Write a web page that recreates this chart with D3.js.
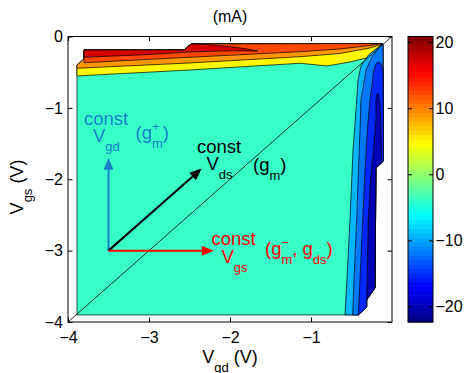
<!DOCTYPE html>
<html>
<head>
<meta charset="utf-8">
<script src="https://cdn.jsdelivr.net/npm/d3@7"></script>
<style>
  body { margin: 0; background: #fff; }
  text { font-family: "Liberation Sans", Arial, sans-serif; }
</style>
</head>
<body>
<svg id="chart" width="468" height="373"></svg>
<script>
// axis ticks
var xTicks = [-4, -3, -2, -1];
var yTicks = [0, -1, -2, -3, -4];
var cbTicks = [-20, -10, 0, 10, 20];
var cLimits = [-22.35, 20.85];

// filled contour regions, [Vgd, Vgs] in volts, painted in this order
var domainPoly = [[-3.889,-3.901],[-3.889,-0.399],[-3.802,-0.315],[-3.802,-0.189],[-2.568,-0.189],[-2.481,-0.105],[-0.123,-0.098],[-0.111,-0.105],[-0.105,-1.744],[-0.198,-1.842],[-0.210,-3.522],[-0.312,-3.690],[-0.312,-3.789],[-0.416,-3.901]];
var yellowPoly = [[-3.889,-0.553],[-2.494,-0.469],[-1.136,-0.375],[-0.802,-0.413],[-0.519,-0.357],[-0.309,-0.301],[-0.185,-0.203],[-0.123,-0.112],[-0.123,-0.098],[-2.481,-0.105],[-2.568,-0.189],[-3.802,-0.189],[-3.802,-0.315],[-3.889,-0.399]];
var orangePoly = [[-3.889,-0.445],[-2.494,-0.371],[-1.136,-0.283],[-0.642,-0.238],[-0.272,-0.161],[-0.123,-0.105],[-0.123,-0.098],[-2.481,-0.105],[-2.568,-0.189],[-3.802,-0.189],[-3.802,-0.315],[-3.889,-0.399]];
var orangeRedPoly = [[-3.802,-0.367],[-2.494,-0.291],[-1.136,-0.213],[-0.642,-0.175],[-0.272,-0.126],[-0.123,-0.100],[-0.123,-0.098],[-2.481,-0.105],[-2.568,-0.189],[-3.802,-0.189]];
var redPoly = [[-3.802,-0.189],[-2.568,-0.189],[-2.481,-0.105],[-2.300,-0.112],[-2.087,-0.133],[-1.840,-0.166],[-1.654,-0.203],[-2.000,-0.200],[-2.494,-0.217],[-2.988,-0.252],[-3.802,-0.291]];
var lightBluePoly = [[-0.580,-3.901],[-0.556,-3.410],[-0.519,-2.570],[-0.481,-1.590],[-0.444,-1.029],[-0.420,-0.609],[-0.383,-0.413],[-0.290,-0.259],[-0.123,-0.105],[-0.111,-0.105],[-0.105,-1.744],[-0.198,-1.842],[-0.210,-3.522],[-0.312,-3.690],[-0.312,-3.789],[-0.416,-3.901]];
var midBluePoly = [[-0.485,-3.901],[-0.469,-3.410],[-0.436,-2.570],[-0.395,-1.310],[-0.383,-0.889],[-0.321,-0.469],[-0.235,-0.259],[-0.123,-0.105],[-0.111,-0.105],[-0.105,-1.744],[-0.198,-1.842],[-0.210,-3.522],[-0.312,-3.690],[-0.312,-3.789],[-0.416,-3.901]];
var bluePoly = [[-0.416,-3.901],[-0.395,-3.410],[-0.362,-2.570],[-0.333,-1.870],[-0.304,-1.310],[-0.272,-0.889],[-0.247,-0.679],[-0.229,-0.497],[-0.198,-0.385],[-0.173,-0.357],[-0.148,-0.371],[-0.123,-0.413],[-0.110,-0.497],[-0.105,-1.744],[-0.198,-1.842],[-0.210,-3.522],[-0.312,-3.690],[-0.312,-3.789]];
var navyPoly = [[-0.312,-3.690],[-0.302,-3.130],[-0.292,-2.570],[-0.265,-2.010],[-0.228,-1.590],[-0.198,-1.169],[-0.198,-0.889],[-0.185,-0.805],[-0.167,-0.805],[-0.148,-0.959],[-0.136,-1.310],[-0.130,-1.772],[-0.198,-1.842],[-0.210,-3.522]];

var bandPolys = [domainPoly, yellowPoly, orangePoly, orangeRedPoly, redPoly, lightBluePoly, midBluePoly, bluePoly, navyPoly];
var bandValues = [-4.0, 4.65, 8.7, 12.5, 17.4, -8.95, -11.85, -15.3, -19.7];   // mA

// arrows: common start, three directions
var arrowStart = [-3.5, -3];
var arrowEnds = [[-3.5, -1.7], [-2.35, -1.85], [-2.2, -3]];
var arrowColors = ["#1580c6", "#000000", "#ff0000"];

var svg = d3.select("#chart");
var pL = 68, pR = 392, pT = 36.5, pB = 322;

var x = d3.scaleLinear().domain([-4, 0]).range([pL, pR]);
var y = d3.scaleLinear().domain([-4, 0]).range([pB, pT]);
var fmt = d3.format("d");

// MATLAB jet, 64 steps
function jet(t) {
  var c = function(v) { return Math.max(0, Math.min(1, v)); };
  return d3.rgb(255 * c(1.5 - Math.abs(4 * t - 3)), 255 * c(1.5 - Math.abs(4 * t - 2)), 255 * c(1.5 - Math.abs(4 * t - 1)));
}
function cmap(v) {
  var t = (v - cLimits[0]) / (cLimits[1] - cLimits[0]);
  var i = Math.max(0, Math.min(63, Math.floor(t * 64)));
  return jet((i + 0.5) / 64);
}

var line = d3.line().x(d => x(d[0])).y(d => y(d[1]));

svg.append("g").selectAll("path")
  .data(bandPolys)
  .enter().append("path")
  .attr("d", d => line(d) + "Z")
  .attr("fill", (d, i) => cmap(bandValues[i]))
  .attr("stroke", "#000")
  .attr("stroke-width", 0.7)
  .attr("stroke-linejoin", "round");

// Vds = 0 diagonal
svg.append("line")
  .attr("x1", x(-4)).attr("y1", y(-4)).attr("x2", x(0)).attr("y2", y(0))
  .attr("stroke", "#000").attr("stroke-width", 0.8);

// arrows
arrowEnds.forEach(function(e, i) {
  var x0 = x(arrowStart[0]), y0 = y(arrowStart[1]), x1 = x(e[0]), y1 = y(e[1]);
  var a = Math.atan2(y1 - y0, x1 - x0), L = 12, hw = 5;
  var bx = x1 - L * Math.cos(a), by = y1 - L * Math.sin(a);
  svg.append("line").attr("x1", x0).attr("y1", y0).attr("x2", bx).attr("y2", by)
    .attr("stroke", arrowColors[i]).attr("stroke-width", 2);
  svg.append("path")
    .attr("d", "M" + x1 + "," + y1 +
      "L" + (bx + hw * Math.sin(a)) + "," + (by - hw * Math.cos(a)) +
      "L" + (bx - hw * Math.sin(a)) + "," + (by + hw * Math.cos(a)) + "Z")
    .attr("fill", arrowColors[i]);
});

// tex-like text: parts of {s, sub, over}
function tex(x0, y0, parts, color, fs) {
  var cx = x0;
  parts.forEach(function(p) {
    var el = svg.append("text").attr("x", cx)
      .attr("y", y0 + (p.sub ? fs * 0.5 : 0))
      .attr("fill", color).style("font-size", (p.sub ? fs * 0.7 : fs) + "px").text(p.s);
    var w = el.node().getComputedTextLength();
    if (p.over) {
      var el2 = svg.append("text").attr("x", cx).attr("y", y0 - fs * 0.45)
        .attr("fill", color).style("font-size", (fs * 0.7) + "px").text(p.over);
      w = Math.max(w, el2.node().getComputedTextLength());
    }
    cx += w;
  });
}

var fs = 18.5;
tex(84, 125, [{s: "const"}], arrowColors[0], fs);
tex(93, 141.7, [{s: "V"}, {s: "gd", sub: true}], arrowColors[0], fs);
tex(135.5, 139, [{s: "(g"}, {s: "m", sub: true, over: "+"}, {s: ")"}], arrowColors[0], fs);

tex(197, 153.3, [{s: "const"}], "#000", fs);
tex(206.5, 170, [{s: "V"}, {s: "ds", sub: true}], "#000", fs);
tex(253, 171, [{s: "(g"}, {s: "m", sub: true}, {s: ")"}], "#000", fs);

tex(211.5, 245, [{s: "const"}], "#ff0000", fs);
tex(221.5, 262.7, [{s: "V"}, {s: "gs", sub: true}], "#ff0000", fs);
tex(265, 255, [{s: "(g"}, {s: "m", sub: true, over: "\u2212"}, {s: ", g"}, {s: "ds", sub: true}, {s: ")"}], "#ff0000", fs);

// axes, ticks inside
function styleAxis(g) {
  g.select(".domain").remove();
  g.selectAll("line").attr("stroke", "#000");
  g.selectAll("text").attr("fill", "#000").style("font-size", "16px");
  g.attr("font-family", null);
}
svg.append("g").attr("transform", "translate(0," + pB + ")")
  .call(d3.axisBottom(x).tickValues(xTicks).tickFormat(fmt).tickSizeInner(-4.5).tickSizeOuter(0).tickPadding(10))
  .call(styleAxis);
svg.append("g").attr("transform", "translate(0," + pT + ")")
  .call(d3.axisTop(x).tickValues(xTicks).tickSizeInner(-4.5).tickSizeOuter(0).tickFormat(""))
  .call(styleAxis);
svg.append("g").attr("transform", "translate(" + pL + ",0)")
  .call(d3.axisLeft(y).tickValues(yTicks).tickFormat(fmt).tickSizeInner(-4.5).tickSizeOuter(0).tickPadding(5))
  .call(styleAxis);
svg.append("g").attr("transform", "translate(" + pR + ",0)")
  .call(d3.axisRight(y).tickValues(yTicks).tickSizeInner(-4.5).tickSizeOuter(0).tickFormat(""))
  .call(styleAxis);

svg.append("rect").attr("x", pL).attr("y", pT).attr("width", pR - pL).attr("height", pB - pT)
  .attr("fill", "none").attr("stroke", "#000").attr("stroke-width", 1);

// labels
svg.append("text").attr("x", (pL + pR) / 2).attr("y", 21.5).attr("text-anchor", "middle")
  .style("font-size", "16px").text("(mA)");

var xl = svg.append("text").attr("x", (pL + pR) / 2).attr("y", 363.3).attr("text-anchor", "middle")
  .style("font-size", "18px");
xl.append("tspan").text("V");
xl.append("tspan").attr("dy", 8.5).style("font-size", "13px").text("gd");
xl.append("tspan").attr("dy", -8.5).text(" (V)");

var yl = svg.append("text").attr("transform", "translate(23.3,187) rotate(-90)").attr("text-anchor", "middle")
  .style("font-size", "18px");
yl.append("tspan").text("V");
yl.append("tspan").attr("dy", 8.5).style("font-size", "13px").text("gs");
yl.append("tspan").attr("dy", -8.5).text(" (V)");

// colorbar
var cbL = 408, cbR = 433;
var cy = d3.scaleLinear().domain(cLimits).range([pB, pT]);
var steps = d3.range(64);
svg.append("g").selectAll("rect")
  .data(steps)
  .enter().append("rect")
  .attr("x", cbL)
  .attr("y", i => cy(cLimits[0] + (i + 1) * (cLimits[1] - cLimits[0]) / 64))
  .attr("width", cbR - cbL)
  .attr("height", (pB - pT) / 64 + 0.6)
  .attr("fill", i => jet((i + 0.5) / 64));
svg.append("g").attr("transform", "translate(" + cbR + ",0)")
  .call(d3.axisRight(cy).tickValues(cbTicks).tickFormat(fmt).tickSizeInner(-4).tickSizeOuter(0).tickPadding(2.5))
  .call(styleAxis);
svg.append("g").attr("transform", "translate(" + cbL + ",0)")
  .call(d3.axisLeft(cy).tickValues(cbTicks).tickSizeInner(-4).tickSizeOuter(0).tickFormat(""))
  .call(styleAxis);
svg.append("rect").attr("x", cbL).attr("y", pT).attr("width", cbR - cbL).attr("height", pB - pT)
  .attr("fill", "none").attr("stroke", "#000").attr("stroke-width", 1);
</script>
</body>
</html>
